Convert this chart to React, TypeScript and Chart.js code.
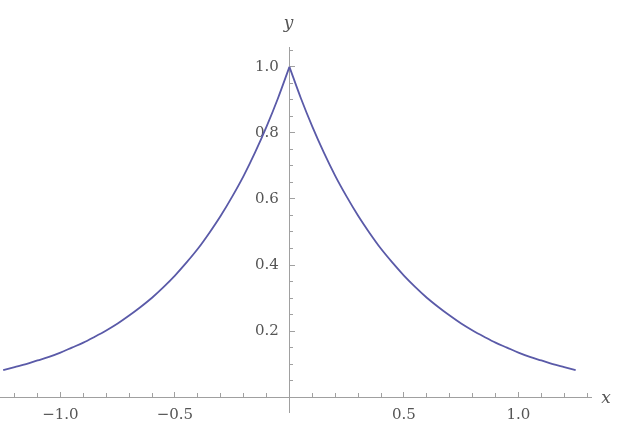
import React, { useEffect, useRef } from 'react';
import { Chart, registerables } from 'chart.js';

Chart.register(...registerables);

const xValues = [
  -1.25, -1.2, -1.15, -1.1, -1.05, -1.0, -0.95, -0.9, -0.85, -0.8, -0.75, -0.7, -0.65,
  -0.6, -0.55, -0.5, -0.45, -0.4, -0.35, -0.3, -0.25, -0.2, -0.15, -0.1, -0.05, 0,
  0.05, 0.1, 0.15, 0.2, 0.25, 0.3, 0.35, 0.4, 0.45, 0.5, 0.55, 0.6, 0.65, 0.7, 0.75,
  0.8, 0.85, 0.9, 0.95, 1.0, 1.05, 1.1, 1.15, 1.2, 1.25,
];
const yValues = [
  0.082, 0.091, 0.1, 0.111, 0.122, 0.135, 0.15, 0.165, 0.183, 0.202, 0.223, 0.247, 0.273,
  0.301, 0.333, 0.368, 0.407, 0.449, 0.497, 0.549, 0.607, 0.67, 0.741, 0.819, 0.905, 1.0,
  0.905, 0.819, 0.741, 0.67, 0.607, 0.549, 0.497, 0.449, 0.407, 0.368, 0.333, 0.301, 0.273,
  0.247, 0.223, 0.202, 0.183, 0.165, 0.15, 0.135, 0.122, 0.111, 0.1, 0.091, 0.082,
];
const xTickLabels = ['-1.0', '-0.5', '0.5', '1.0'];
const yTickLabels = ['0.2', '0.4', '0.6', '0.8', '1.0'];

const axisGray = '#a0a0a0';
const textGray = '#555555';
const lineColor = '#5a5aa8';
const tickFont = { family: 'DejaVu Serif', size: 15 };

const X_MIN = -1.264;
const X_MAX = 1.317;
const Y_MIN = -0.045;
const Y_MAX = 1.06;

const fmt = (v: number) => (Math.abs(v) < 1e-9 ? '0' : v.toFixed(1).replace('-', '\u2212'));

const axisNames = {
  id: 'axisNames',
  afterDraw(chart: Chart) {
    const { ctx, scales } = chart;
    const ox = scales.x.getPixelForValue(0);
    const oy = scales.y.getPixelForValue(0);
    ctx.save();
    ctx.fillStyle = textGray;
    ctx.font = 'italic 17px "DejaVu Serif"';
    ctx.textAlign = 'center';
    ctx.textBaseline = 'alphabetic';
    ctx.fillText('y', ox - 1, chart.chartArea.top - 19);
    ctx.fillText('x', scales.x.right + 15, oy + 6);
    ctx.restore();
  },
};

// axes sit inside the plot, so they take no room in the layout
const noSizeX = (s: any) => { s.height = 0; s.paddingLeft = 0; s.paddingRight = 0; };
const noSizeY = (s: any) => { s.width = 0; s.paddingTop = 0; s.paddingBottom = 0; };

const App: React.FC = () => {
  const canvasRef = useRef<HTMLCanvasElement | null>(null);

  useEffect(() => {
    document.body.style.margin = '0';
    if (!canvasRef.current) return;

    const majorX = xTickLabels.map((s) => parseFloat(s));
    const majorY = yTickLabels.map((s) => parseFloat(s));
    const near = (list: number[], v: number) => list.some((m) => Math.abs(m - v) < 1e-6);

    // two halves so the peak stays a sharp cusp while each side is smoothed
    const points = xValues.map((x, i) => ({ x, y: yValues[i] }));
    const peak = xValues.indexOf(0);
    const half = (data: { x: number; y: number }[]) => ({
      data,
      borderColor: lineColor,
      borderWidth: 1.8,
      pointRadius: 0,
      cubicInterpolationMode: 'monotone' as const,
      fill: false,
    });

    const chart = new Chart(canvasRef.current, {
      type: 'line',
      data: {
        datasets: [half(points.slice(0, peak + 1)), half(points.slice(peak))],
      },
      options: {
        responsive: false,
        animation: false,
        layout: { padding: { left: 0, top: 47, right: 29, bottom: 13 } },
        plugins: { legend: { display: false }, tooltip: { enabled: false } },
        scales: {
          x: {
            type: 'linear',
            position: { y: 0 },
            min: X_MIN,
            max: X_MAX,
            afterFit: noSizeX,
            grid: { drawOnChartArea: false, tickLength: -6, tickColor: axisGray, tickWidth: 1 },
            border: { color: axisGray, width: 1 },
            ticks: {
              stepSize: 0.5,
              includeBounds: false,
              padding: 15,
              color: textGray,
              font: tickFont,
              maxRotation: 0,
              autoSkip: false,
              callback: (v: any) => (near(majorX, Number(v)) ? fmt(Number(v)) : ''),
            },
          },
          xMinor: {
            type: 'linear',
            position: { y: 0 },
            min: X_MIN,
            max: X_MAX,
            afterFit: noSizeX,
            grid: { drawOnChartArea: false, tickLength: -4, tickColor: axisGray, tickWidth: 1 },
            border: { display: false },
            ticks: { stepSize: 0.1, includeBounds: false, display: false, autoSkip: false },
          },
          y: {
            type: 'linear',
            position: { x: 0 },
            min: Y_MIN,
            max: Y_MAX,
            afterFit: noSizeY,
            grid: { drawOnChartArea: false, tickLength: -6, tickColor: axisGray, tickWidth: 1 },
            border: { color: axisGray, width: 1 },
            ticks: { stepSize: 0.2, includeBounds: false, display: false, autoSkip: false },
          },
          yMinor: {
            type: 'linear',
            position: { x: 0 },
            min: Y_MIN,
            max: Y_MAX,
            afterFit: noSizeY,
            grid: { drawOnChartArea: false, tickLength: -4, tickColor: axisGray, tickWidth: 1 },
            border: { display: false },
            ticks: { stepSize: 0.05, includeBounds: false, display: false, autoSkip: false },
          },
          // label column for the y axis, set a little left of the axis line
          yLabels: {
            type: 'linear',
            position: { x: -0.046 },
            min: Y_MIN,
            max: Y_MAX,
            afterFit: noSizeY,
            grid: { display: false },
            border: { display: false },
            ticks: {
              stepSize: 0.2,
              includeBounds: false,
              padding: 0,
              color: textGray,
              font: tickFont,
              autoSkip: false,
              callback: (v: any) => (near(majorY, Number(v)) ? fmt(Number(v)) : ''),
            },
          },
        },
      },
      plugins: [axisNames],
    });

    return () => {
      chart.destroy();
    };
  }, []);

  return <canvas ref={canvasRef} width={620} height={425}></canvas>;
};

export default App;
